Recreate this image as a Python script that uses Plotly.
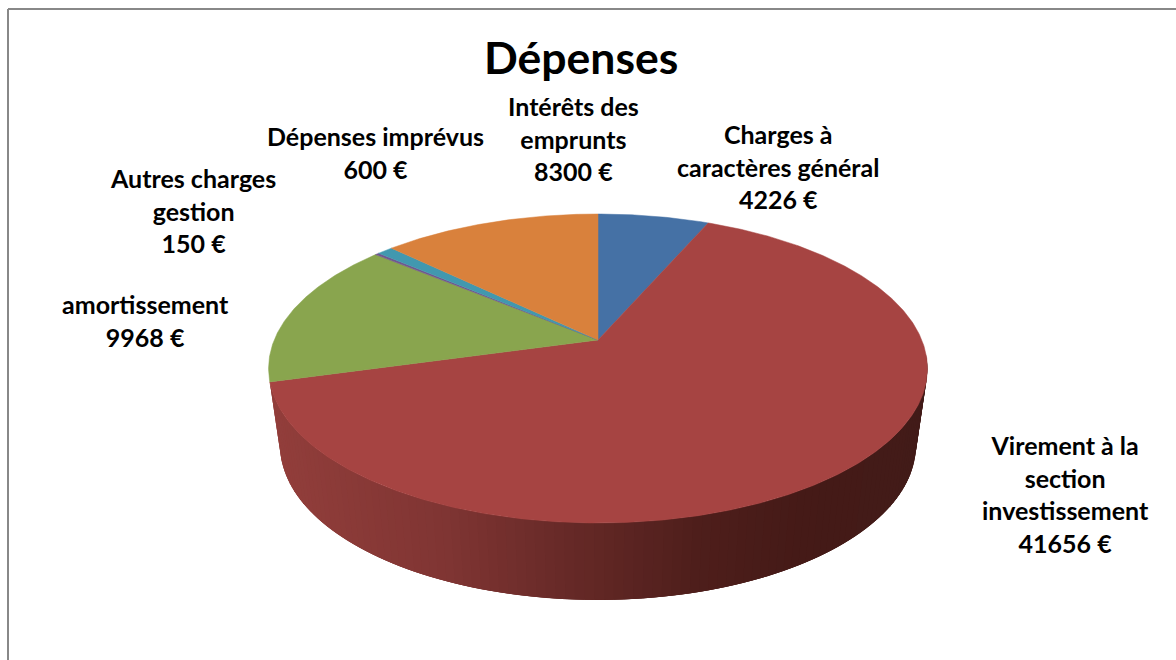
import math
import plotly.graph_objects as go

title = "Dépenses"
categories = ["Charges à<br>caractères général", "Virement à la<br>section<br>investissement",
              "amortissement", "Autres charges<br>gestion", "Dépenses imprévus", "Intérêts des<br>emprunts"]
values = [4226, 41656, 9968, 150, 600, 8300]
colors = ["#4571A5", "#A64442", "#89A54E", "#71588F", "#4198AF", "#D9813C"]
label_x = [778, 1065, 145, 193, 375, 573]
label_y = [166, 494, 320, 210, 152, 138]

# perspective disc: centre of the pie and projection constants, in page pixels
CX, CY, AX, AY, PERSP = 598, 340, 323.8, 86.5, -0.1845
DEPTH, SHRINK = 77, 0.965


def top(theta):
    """theta in degrees, clockwise from twelve o'clock."""
    r = math.radians(theta)
    u, v = math.sin(r), -math.cos(r)
    d = 1 + PERSP * v
    return CX + AX * u / d, (CY + AY * v) / d


def bottom(theta):
    x, y = top(theta)
    return CX + (x - CX) * SHRINK, y + DEPTH


def wall_color(x):
    stops = [(270, (146, 62, 59)), (440, (128, 53, 51)), (560, (104, 42, 40)),
             (700, (78, 30, 27)), (800, (69, 26, 23)), (930, (66, 27, 24))]
    for (x0, c0), (x1, c1) in zip(stops, stops[1:]):
        if x <= x1:
            t = max(0, (x - x0) / (x1 - x0))
            return "rgb(%d,%d,%d)" % tuple(round(a + (b - a) * t) for a, b in zip(c0, c1))
    return "rgb(66,27,24)"


total = sum(values)
edges = [0]
for val in values:
    edges.append(edges[-1] + val / total * 360)

fig = go.Figure()

# side wall of the slice facing the viewer; every strip runs on under the next one, so no seams
a0, a1 = max(edges[1], 95), edges[2]
n = 110
for i in range(n):
    t0 = a0 + (a1 - a0) * i / n
    t1 = min(a1, a0 + (a1 - a0) * (i + 3) / n)
    tm = a0 + (a1 - a0) * (i + 0.5) / n
    p = [top(t0), top(t1), bottom(t1), bottom(t0), top(t0)]
    col = wall_color(top(tm)[0])
    fig.add_trace(go.Scatter(x=[q[0] for q in p], y=[q[1] for q in p], mode="lines",
                             fill="toself", fillcolor=col, line=dict(color=col, width=0),
                             hoverinfo="skip", showlegend=False))

# top face
for i, val in enumerate(values):
    steps = max(2, int((edges[i + 1] - edges[i]) * 2))
    pts = [top(edges[i] + (edges[i + 1] - edges[i]) * k / steps) for k in range(steps + 1)]
    xs = [CX] + [q[0] for q in pts] + [CX]
    ys = [CY] + [q[1] for q in pts] + [CY]
    fig.add_trace(go.Scatter(x=xs, y=ys, mode="lines", fill="toself", fillcolor=colors[i],
                             line=dict(color=colors[i], width=0.5), name=categories[i],
                             hoverinfo="skip", showlegend=False))

annotations = [dict(x=581, y=56, text="<b>%s</b>" % title, showarrow=False,
                    font=dict(family="Lato", size=44.5, color="black"))]
for name, val, lx, ly in zip(categories, values, label_x, label_y):
    annotations.append(dict(x=lx, y=ly, text="<b>%s<br>%d €</b>" % (name, val), showarrow=False,
                            align="center", font=dict(family="Lato", size=25, color="black")))

BORDER = dict(color="#888888", width=2)
fig.update_layout(
    width=1176, height=660, margin=dict(l=0, r=0, t=0, b=0),
    paper_bgcolor="white", plot_bgcolor="white",
    xaxis=dict(range=[0, 1176], visible=False, fixedrange=True),
    yaxis=dict(range=[660, 0], visible=False, fixedrange=True),
    annotations=annotations,
    shapes=[dict(type="line", x0=8, x1=1176, y0=9, y1=9, line=BORDER),
            dict(type="line", x0=8, x1=8, y0=9, y1=660, line=BORDER)],
)
fig.write_html("out.html", config=dict(displayModeBar=False),
               post_script="document.body.style.margin='0';document.body.style.overflow='hidden';")
